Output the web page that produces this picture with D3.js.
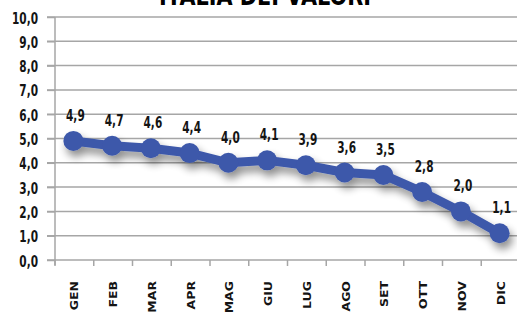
<!DOCTYPE html>
<html><head><meta charset="utf-8">
<script src="https://cdn.jsdelivr.net/npm/d3@7"></script>
<style>
body{margin:0;background:#fff;}
text{font-family:"DejaVu Sans",sans-serif;font-weight:bold;}
</style></head>
<body><svg id="c" width="517" height="313"></svg>
<script>
const title = "ITALIA DEI VALORI";
const months = ["GEN","FEB","MAR","APR","MAG","GIU","LUG","AGO","SET","OTT","NOV","DIC"];
const values = [4.9,4.7,4.6,4.4,4.0,4.1,3.9,3.6,3.5,2.8,2.0,1.1];
const yTicks = [0,1,2,3,4,5,6,7,8,9,10];

const svg = d3.select("#c");
const x = d3.scaleBand().domain(months).range([55, 520]);
const y = d3.scaleLinear().domain([0,10]).range([260, 17]);
const fmt = v => v.toFixed(1).replace(".", ",");
const SX = 0.66;

const defs = svg.append("defs");
const f = defs.append("filter").attr("id","sh").attr("x","-20%").attr("y","-50%").attr("width","140%").attr("height","200%");
f.append("feGaussianBlur").attr("in","SourceAlpha").attr("stdDeviation",4).attr("result","b");
f.append("feOffset").attr("in","b").attr("dx",3).attr("dy",6).attr("result","o");
f.append("feComponentTransfer").attr("in","o").attr("result","o2").append("feFuncA").attr("type","linear").attr("slope",0.45);
const m = f.append("feMerge"); m.append("feMergeNode").attr("in","o2"); m.append("feMergeNode").attr("in","SourceGraphic");

svg.append("text").attr("transform","translate(265,5) scale(0.8,1)").attr("text-anchor","middle")
  .style("font-size","26px").attr("fill","#000").text(title);

// grid
svg.append("g").selectAll("line").data(yTicks).join("line")
  .attr("x1",47).attr("x2",517).attr("y1",d=>y(d)).attr("y2",d=>y(d))
  .attr("stroke","#a6a6a6").attr("stroke-width",1.5);

// y axis
const ya = svg.append("g").attr("transform","translate(55,0)")
  .call(d3.axisLeft(y).tickValues(yTicks).tickFormat(fmt).tickSize(8));
ya.select(".domain").attr("stroke","#a6a6a6").attr("stroke-width",1.5).attr("d","M0,17V265");
ya.selectAll(".tick line").attr("stroke","#a6a6a6").attr("stroke-width",1.5);
ya.selectAll(".tick text").attr("x",null).attr("dy",null)
  .attr("transform",`translate(-17,6) scale(${SX},1)`)
  .style("font-size","16px").attr("fill","#141414");

// x axis ticks at band boundaries
const xa = svg.append("g");
xa.selectAll("line").data(months).join("line")
  .attr("x1",d=>x(d)).attr("x2",d=>x(d)).attr("y1",260).attr("y2",266)
  .attr("stroke","#a6a6a6").attr("stroke-width",1.5);
xa.selectAll("text").data(months).join("text")
  .attr("transform",d=>`translate(${x(d)+x.bandwidth()/2+4},281) scale(0.9,1) rotate(-90)`)
  .attr("text-anchor","end").style("font-size","12.5px").attr("fill","#141414").text(d=>d);

// line
const cx = d=>x(d)+x.bandwidth()/2 - 1;
const g = svg.append("g").attr("filter","url(#sh)");
g.append("path").datum(values)
  .attr("d", d3.line().x((v,i)=>cx(months[i])).y(v=>y(v)))
  .attr("fill","none").attr("stroke","#3d58aa").attr("stroke-width",9).attr("stroke-linejoin","round");
g.selectAll("circle").data(values).join("circle")
  .attr("cx",(v,i)=>cx(months[i])).attr("cy",v=>y(v)).attr("r",10).attr("fill","#3d58aa");

// labels
svg.append("g").selectAll("text").data(values).join("text")
  .attr("transform",(v,i)=>`translate(${cx(months[i])+2},${y(v)-20}) scale(${SX},1)`)
  .attr("text-anchor","middle").style("font-size","16px").attr("fill","#141414").text(fmt);
</script></body></html>
